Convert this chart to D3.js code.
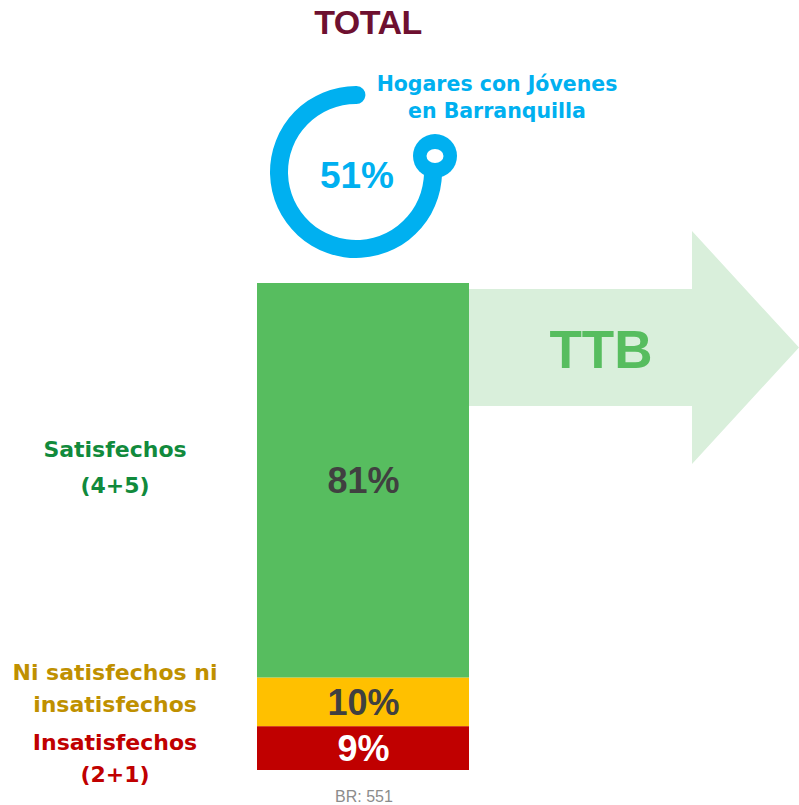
<!DOCTYPE html>
<html>
<head>
<meta charset="utf-8">
<script src="https://cdn.jsdelivr.net/npm/d3@7"></script>
<style>
  body { margin: 0; background: #fff; }
  svg { display: block; }
</style>
</head>
<body>
<svg width="799" height="805"></svg>
<script>
// data
var categories = ['Insatisfechos (2+1)', 'Ni satisfechos ni insatisfechos', 'Satisfechos (4+5)'];
var values = [9, 10, 81];
var labelLines = [['Insatisfechos', '(2+1)'], ['Ni satisfechos ni', 'insatisfechos'], ['Satisfechos', '(4+5)']];
var colors = ['#c00000', '#ffc000', '#57bd5f'];
var labelColors = ['#c00000', '#bf9000', '#118a3c'];
var valueColors = ['#ffffff', '#404040', '#404040'];
var donutValue = 51;
var donutLabel = ['Hogares con Jóvenes', 'en Barranquilla'];
var baseText = 'BR: 551';

var svg = d3.select('svg');

// title
svg.append('text')
    .attr('x', 368).attr('y', 34)
    .attr('text-anchor', 'middle')
    .style('font', 'bold 34px "Liberation Sans", Arial, sans-serif')
    .style('letter-spacing', '-0.5px')
    .attr('fill', '#6e1030')
    .text('TOTAL');

// donut decoration
var cx = 356, cy = 172;
var arc = d3.arc()
    .innerRadius(68)
    .outerRadius(86)
    .cornerRadius(9)
    .startAngle(78 * Math.PI / 180)
    .endAngle(367 * Math.PI / 180);
svg.append('path')
    .attr('transform', 'translate(' + cx + ',' + cy + ')')
    .attr('d', arc())
    .attr('fill', '#00b0f0');
svg.append('circle').attr('cx', 435).attr('cy', 156).attr('r', 22).attr('fill', '#00b0f0');
svg.append('ellipse').attr('cx', 435).attr('cy', 156).attr('rx', 8.5).attr('ry', 7).attr('fill', '#fff');
svg.append('text')
    .attr('x', 357).attr('y', 188)
    .attr('text-anchor', 'middle')
    .style('font', 'bold 37px "Liberation Sans", Arial, sans-serif')
    .attr('fill', '#00b0f0')
    .text(donutValue + '%');
svg.append('g').selectAll('text')
    .data(donutLabel)
    .enter().append('text')
    .attr('x', 497)
    .attr('y', (d, i) => 91 + i * 27)
    .attr('text-anchor', 'middle')
    .style('font', 'bold 20.5px "DejaVu Sans", sans-serif')
    .attr('fill', '#00b0f0')
    .text(d => d);

// TTB arrow (behind the bar)
svg.append('path')
    .attr('d', 'M460,289 L692,289 L692,231 L799,347.5 L692,464 L692,406 L460,406 Z')
    .attr('fill', '#d9efdb');
svg.append('text')
    .attr('x', 601).attr('y', 368)
    .attr('text-anchor', 'middle')
    .style('font', 'bold 53px "Liberation Sans", Arial, sans-serif')
    .attr('fill', '#57bd5f')
    .text('TTB');

// stacked bar
var y = d3.scaleLinear().domain([0, 100]).range([770, 283]);
var x0 = 257, barW = 212;
var stack = [];
var acc = 0;
values.forEach((v, i) => {
    stack.push({ cat: categories[i], v: v, y0: acc, y1: acc + v, i: i });
    acc += v;
});

var seg = svg.append('g').selectAll('g')
    .data(stack)
    .enter().append('g');
seg.append('rect')
    .attr('x', x0)
    .attr('y', d => y(d.y1))
    .attr('width', barW)
    .attr('height', d => y(d.y0) - y(d.y1))
    .attr('fill', d => colors[d.i]);
seg.append('text')
    .attr('x', x0 + barW / 2 + 0.5)
    .attr('y', d => (y(d.y0) + y(d.y1)) / 2 + 13)
    .attr('text-anchor', 'middle')
    .style('font', 'bold 36px "Liberation Sans", Arial, sans-serif')
    .attr('fill', d => valueColors[d.i])
    .text(d => d.v + '%');

// category labels on the left
var labelY = [[750, 782], [680, 712], [457, 493]];
var lab = svg.append('g').selectAll('text')
    .data(stack)
    .enter().append('text')
    .attr('text-anchor', 'middle')
    .style('font', 'bold 22px "DejaVu Sans", sans-serif')
    .attr('fill', d => labelColors[d.i]);
lab.selectAll('tspan')
    .data(d => labelLines[d.i].map((t, k) => ({ t: t, y: labelY[d.i][k] })))
    .enter().append('tspan')
    .attr('x', 115)
    .attr('y', d => d.y)
    .text(d => d.t);

// base
svg.append('text')
    .attr('x', 364).attr('y', 802)
    .attr('text-anchor', 'middle')
    .style('font', '16px "Liberation Sans", Arial, sans-serif')
    .attr('fill', '#8c8c8c')
    .text(baseText);
</script>
</body>
</html>
